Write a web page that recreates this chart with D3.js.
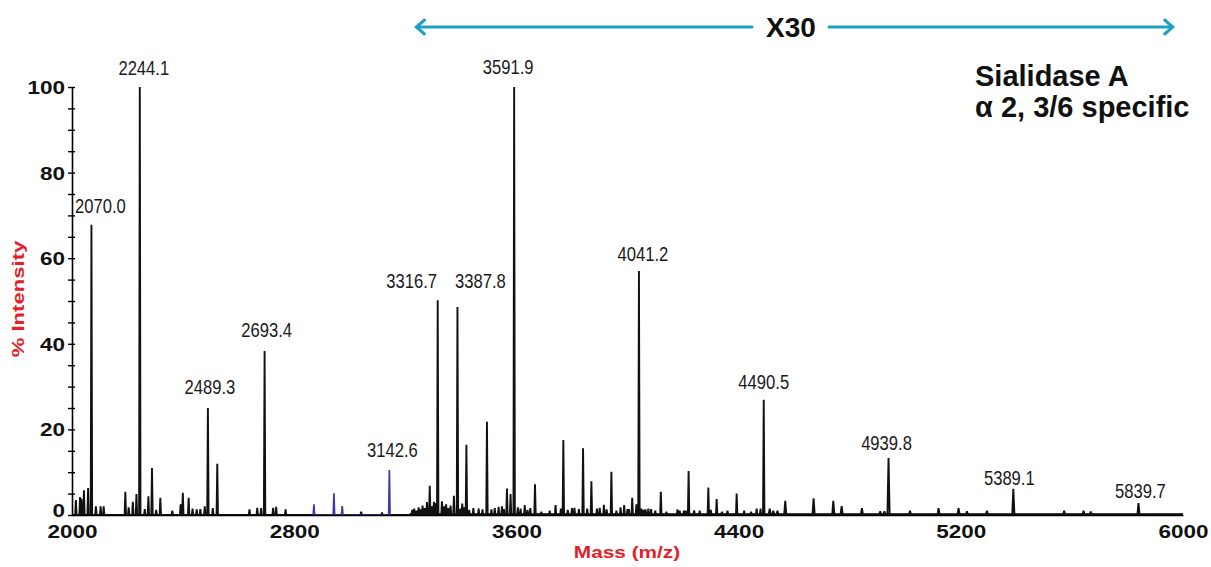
<!DOCTYPE html>
<html>
<meta charset="utf-8">
<style>
  body { margin: 0; background: #fff; }
  svg text { font-family: "Liberation Sans", Arial, sans-serif; }
</style>
<body>
<div id="chart"></div>
<script src="https://cdn.jsdelivr.net/npm/d3@7"></script>
<script>
"use strict";

// ---- data (m/z, % intensity) ----
var peakMass = [
  2014, 2029, 2034, 2043, 2058, 2070.0, 2086, 2103, 2114,
  2192, 2204, 2219, 2232, 2244.1, 2262, 2275, 2288, 2303, 2318,
  2361, 2391, 2399, 2420, 2434, 2449, 2462, 2478, 2489.3, 2507, 2523,
  2639, 2667, 2681, 2693.4, 2724, 2735, 2769, 3041, 3116,
  3225, 3232, 3240, 3248, 3255, 3262, 3270, 3278, 3288, 3296, 3303, 3310,
  3316.7, 3332, 3340, 3347, 3355, 3363, 3375, 3387.8, 3398, 3405, 3412, 3420,
  3430, 3445, 3464, 3478, 3494, 3510, 3522, 3536, 3548, 3555, 3566, 3579,
  3591.9, 3605, 3615, 3630, 3640, 3650, 3667, 3690, 3720, 3741, 3760, 3769,
  3785, 3800, 3809, 3825, 3840, 3855, 3870, 3890, 3900, 3915, 3925, 3942,
  3960, 3975, 3988, 4000, 4005, 4017, 4032, 4041.2, 4050, 4058, 4065, 4075,
  4085, 4100, 4120, 4140, 4180, 4188, 4203, 4210, 4220, 4240, 4260, 4291,
  4300, 4321, 4340, 4360, 4393, 4420, 4445, 4465, 4479, 4490.5, 4512, 4525,
  4540, 4568, 4670, 4741, 4771, 4844, 4910, 4925, 4939.8, 5017, 5120,
  5192, 5222, 5294, 5389.1, 5572, 5642, 5668, 5839.7
];
var peakInt = [
  3.5, 4.2, 3.8, 5.8, 6.3, 67.8, 2.0, 2.0, 2.0,
  5.4, 1.8, 3.1, 4.9, 100, 1.4, 4.4, 11.0, 1.2, 4.0,
  1.0, 2.5, 5.2, 4.0, 1.5, 1.3, 1.4, 2.0, 25.0, 1.6, 12.0,
  1.3, 1.7, 1.6, 38.3, 1.7, 1.9, 1.3, 0.8, 0.6,
  1.2, 1.5, 1.0, 1.8, 1.3, 2.2, 1.6, 3.0, 6.8, 2.0, 3.1, 2.8,
  50.2, 3.2, 2.0, 2.5, 1.6, 2.2, 4.5, 48.6, 1.5, 2.7, 1.8, 16.4,
  1.2, 1.6, 1.5, 1.3, 21.8, 1.3, 1.6, 1.9, 2.0, 1.4, 6.2, 4.9,
  100, 1.8, 1.5, 2.3, 1.2, 1.6, 7.2, 0.8, 1.0, 2.3, 1.5, 17.5,
  1.2, 1.6, 1.7, 1.4, 15.6, 1.5, 7.9, 1.5, 1.7, 2.4, 1.3, 10.1,
  1.0, 1.8, 2.3, 1.4, 1.4, 4.0, 2.5, 57.0, 1.5, 1.2, 1.3, 1.5,
  1.4, 1.0, 5.4, 0.8, 1.3, 1.0, 1.0, 1.0, 10.3, 1.1, 1.0, 6.4,
  1.2, 3.7, 0.8, 1.0, 5.0, 1.0, 0.8, 1.5, 1.5, 26.9, 1.5, 1.0,
  1.0, 3.3, 3.9, 3.3, 2.1, 1.6, 0.9, 0.9, 13.3, 1.0, 1.6,
  1.6, 0.9, 1.0, 6.1, 1.0, 1.0, 0.8, 2.8
];
// peaks drawn in blue
var blueMass = [2871, 2943, 2973, 3142.6];
var blueInt = [2.5, 5.1, 2.1, 10.5];

// annotated peaks
var labelMass = [2070.0, 2244.1, 2489.3, 2693.4, 3142.6, 3316.7, 3387.8,
                 3591.9, 4041.2, 4490.5, 4939.8, 5389.1, 5839.7];

var xTicks = [2000, 2800, 3600, 4400, 5200, 6000];
var yTicks = [0, 20, 40, 60, 80, 100];

// ---- layout ----
var W = 1211, H = 567;
var x = d3.scaleLinear().domain([2000, 6000]).range([72, 1183]);
var y = d3.scaleLinear().domain([0, 100]).range([515, 87]);
// label nudges [dx, gap above peak top]
var nudge = {
  "2070.0": [9, 12], "2244.1": [4, 12], "2489.3": [2, 14], "2693.4": [2, 14],
  "3142.6": [3, 13], "3316.7": [-26, 12], "3387.8": [23, 19], "3591.9": [-6, 13],
  "4041.2": [4, 10], "4490.5": [0, 11], "4939.8": [-2, 8], "5389.1": [-4, 4],
  "5839.7": [2, 5]
};

var svg = d3.select("#chart").append("svg")
    .attr("width", W).attr("height", H);

// stretch a text horizontally to mimic the source lettering
function stretch(sel, k) {
  sel.each(function () {
    var len = this.getComputedTextLength();
    d3.select(this).attr("textLength", len * k).attr("lengthAdjust", "spacingAndGlyphs");
  });
}

// spike path: each peak as a narrow triangle on the baseline
function spikes(ms, is, withBase) {
  var pts = [];
  if (withBase) pts.push([2000, 0]);
  ms.map(function (m, i) { return [m, is[i]]; })
    .sort(function (a, b) { return a[0] - b[0]; })
    .forEach(function (p) {
      var w = p[0] > 4500 ? 4 : 2.5;
      pts.push([p[0] - w, 0], [p[0], p[1]], [p[0] + w, 0]);
    });
  if (withBase) pts.push([6000, 0]);
  return pts;
}
var line = d3.line().x(function (d) { return x(d[0]); }).y(function (d) { return y(d[1]); });

// thicker baseline in the x30 zoomed region
svg.append("line")
    .attr("x1", x(3215)).attr("x2", x(6000))
    .attr("y1", y(0) - 0.5).attr("y2", y(0) - 0.5)
    .attr("stroke", "#000").attr("stroke-width", 2.5);

svg.append("path")
    .attr("d", line(spikes(peakMass, peakInt, true)))
    .attr("fill", "none").attr("stroke", "#111")
    .attr("stroke-width", 1.9).attr("stroke-linejoin", "bevel");

svg.append("path")
    .attr("d", line(spikes(blueMass, blueInt, false)))
    .attr("fill", "none").attr("stroke", "#3a3aa8")
    .attr("stroke-width", 1.7).attr("stroke-linejoin", "bevel");

// ---- axes ----
var yAxis = svg.append("g")
    .attr("transform", "translate(" + x(2000) + ",0)")
    .call(d3.axisLeft(y).tickValues(d3.range(0, 101, 5))
      .tickSizeInner(4).tickSizeOuter(0).tickPadding(3)
      .tickFormat(function (d) { return yTicks.indexOf(d) >= 0 ? d : ""; }));
yAxis.select(".domain").attr("stroke-width", 1.6);
yAxis.selectAll(".tick line").attr("x2", -4).attr("x1", 3).attr("stroke-width", 1.4);
yAxis.selectAll(".tick text")
    .attr("font-size", 18).attr("font-weight", "bold").attr("fill", "#111")
    .attr("dy", function (d) { return d === 0 ? "0.1em" : "0.36em"; });
stretch(yAxis.selectAll(".tick text"), 1.25);

var xAxis = svg.append("g")
    .attr("transform", "translate(0," + y(0) + ")")
    .call(d3.axisBottom(x).tickValues(xTicks).tickSize(0).tickFormat(d3.format("d")));
xAxis.select(".domain").attr("stroke-width", 1.6);
xAxis.selectAll(".tick text")
    .attr("font-size", 18).attr("font-weight", "bold").attr("fill", "#111")
    .attr("y", 10).attr("dy", "0.71em");
stretch(xAxis.selectAll(".tick text"), 1.25);

// axis titles
var xt = svg.append("text")
    .attr("x", 627).attr("y", 558).attr("text-anchor", "middle")
    .attr("font-size", 16).attr("font-weight", "bold").attr("fill", "#e3202a")
    .text("Mass (m/z)");
stretch(xt, 1.3);
var yt = svg.append("text")
    .attr("transform", "translate(24,299) rotate(-90)").attr("text-anchor", "middle")
    .attr("font-size", 17).attr("font-weight", "bold").attr("fill", "#e3202a")
    .text("% Intensity");
stretch(yt, 1.3);

// ---- peak labels ----
var allMass = peakMass.concat(blueMass), allInt = peakInt.concat(blueInt);
svg.selectAll("text.peak")
  .data(labelMass)
  .enter().append("text")
    .attr("class", "peak")
    .attr("x", function (m) { return x(m) + nudge[m.toFixed(1)][0]; })
    .attr("y", function (m) { return y(allInt[allMass.indexOf(m)]) - nudge[m.toFixed(1)][1]; })
    .attr("text-anchor", "middle")
    .attr("font-size", 20).attr("fill", "#1a1a1a")
    .text(function (m) { return m.toFixed(1); })
    .call(stretch, 0.83);

// ---- title block ----
svg.append("text").attr("x", 975).attr("y", 86)
    .attr("font-size", 29).attr("font-weight", "bold").attr("fill", "#111")
    .text("Sialidase A");
svg.append("text").attr("x", 975).attr("y", 117)
    .attr("font-size", 29).attr("font-weight", "bold").attr("fill", "#111")
    .text("α 2, 3/6 specific");

// ---- x30 arrow ----
var teal = "#1f9fc4", ay = 27;
var arrow = svg.append("g").attr("stroke", teal).attr("stroke-width", 3)
    .attr("fill", "none").attr("stroke-linecap", "round");
arrow.append("line").attr("x1", x(3240)).attr("x2", 752).attr("y1", ay).attr("y2", ay);
arrow.append("line").attr("x1", 829).attr("x2", x(5963)).attr("y1", ay).attr("y2", ay);
arrow.append("path").attr("d", "M" + (x(3240) + 8) + "," + (ay - 7) + "L" + x(3240) + "," + ay + "L" + (x(3240) + 8) + "," + (ay + 7));
arrow.append("path").attr("d", "M" + (x(5963) - 8) + "," + (ay - 7) + "L" + x(5963) + "," + ay + "L" + (x(5963) - 8) + "," + (ay + 7));
svg.append("text").attr("x", 791).attr("y", 37).attr("text-anchor", "middle")
    .attr("font-size", 28).attr("font-weight", "bold").attr("fill", "#111")
    .text("X30");
</script>
</body>
</html>
